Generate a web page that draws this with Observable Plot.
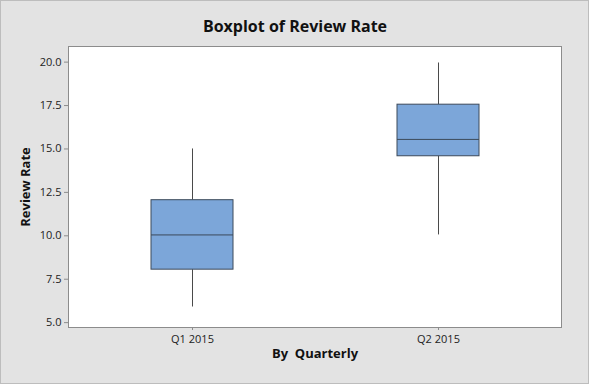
<!DOCTYPE html>
<html>
<head>
<meta charset="utf-8">
<script src="https://cdn.jsdelivr.net/npm/d3@7"></script>
<script src="https://cdn.jsdelivr.net/npm/@observablehq/plot@0.6"></script>
<style>
  html, body { margin: 0; padding: 0; background: #e3e3e3; }
  svg text { white-space: pre; }
</style>
</head>
<body>
<div id="chart"></div>
<script>
const categories = ["Q1 2015", "Q2 2015"];
const whiskerLow = [5.9, 10.05];
const q1 = [8.05, 14.58];
const medians = [10.05, 15.55];
const q3 = [12.05, 17.55];
const whiskerHigh = [15.0, 19.95];
const yTicks = [5, 7.5, 10, 12.5, 15, 17.5, 20];

const title = "Boxplot of Review Rate";
const xTitle = "By  Quarterly";
const yTitle = "Review Rate";

const rows = categories.map((c, i) => ({
  cat: c, lo: whiskerLow[i], q1: q1[i], med: medians[i], q3: q3[i], hi: whiskerHigh[i]
}));

const font = "'Open Sans', 'Noto Sans', sans-serif";

const chart = Plot.plot({
  width: 589,
  height: 384,
  marginLeft: 68,
  marginRight: 28,
  marginTop: 46,
  marginBottom: 57,
  style: { background: "#e3e3e3", fontFamily: font, fontSize: "11px", color: "#222", outline: "1px solid #bdbdbd", outlineOffset: "-1px" },
  x: { type: "band", domain: categories, padding: 0, label: null },
  y: { domain: [4.72, 20.9], label: null },
  marks: [
    Plot.frame({ fill: "white", stroke: "#8c8c8c", strokeWidth: 1 }),
    Plot.axisY({ ticks: yTicks, tickFormat: d3.format(".1f"), tickSize: 4, tickPadding: 3, stroke: "#8c8c8c", fill: "#222", label: null }),
    Plot.axisX({ tickSize: 3, tickPadding: 5, stroke: "#8c8c8c", fill: "#222", label: null }),
    Plot.ruleX(rows, { x: "cat", y1: "lo", y2: "q1", stroke: "#4a4a4a", strokeWidth: 1 }),
    Plot.ruleX(rows, { x: "cat", y1: "q3", y2: "hi", stroke: "#4a4a4a", strokeWidth: 1 }),
    Plot.barY(rows, { x: "cat", y1: "q1", y2: "q3", fill: "#7ca6d9", stroke: "#3c4a5a", strokeWidth: 1, insetLeft: 82, insetRight: 82 }),
    Plot.tickY(rows, { x: "cat", y: "med", stroke: "#3c4a5a", strokeWidth: 1, insetLeft: 82, insetRight: 82 }),
    Plot.text([title], { frameAnchor: "top", textAnchor: "middle", dx: -20, dy: -26, fontSize: 16, fontWeight: "bold", fill: "#111" }),
    Plot.text([xTitle], { frameAnchor: "bottom", textAnchor: "middle", dy: 30, fontSize: 13, fontWeight: "bold", fill: "#111" }),
    Plot.text([yTitle], { frameAnchor: "left", textAnchor: "middle", dx: -43, rotate: -90, fontSize: 13, fontWeight: "bold", fill: "#111" })
  ]
});
document.getElementById("chart").append(chart);
</script>
</body>
</html>
